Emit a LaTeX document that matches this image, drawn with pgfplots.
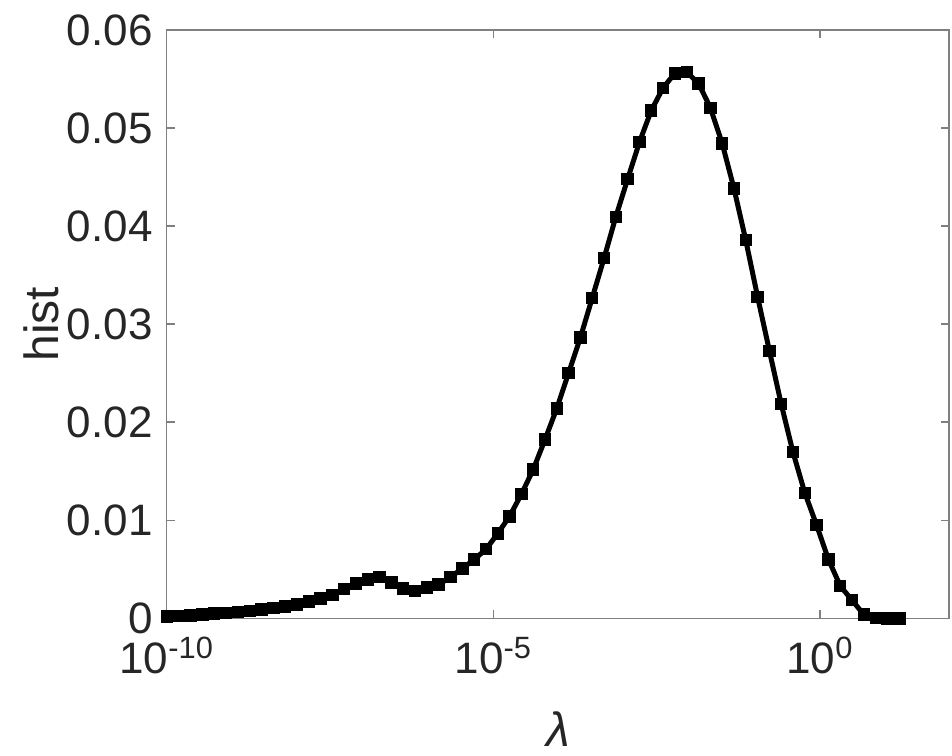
\documentclass[border=0pt]{standalone}
\usepackage{fontspec}
\setmainfont{Liberation Sans}
\usepackage{pgfplots}
\pgfplotsset{compat=1.18}
\usepackage{pgfplotstable}
\usetikzlibrary{calc}
\definecolor{txt}{RGB}{38,38,38}
\pgfplotstableread{
lx y
-9.995 0.00017
-9.814 0.00022
-9.633 0.00030
-9.453 0.00040
-9.272 0.00047
-9.091 0.00055
-8.910 0.00062
-8.729 0.00075
-8.549 0.00090
-8.368 0.00105
-8.187 0.00120
-8.006 0.00140
-7.825 0.00170
-7.645 0.00200
-7.464 0.00240
-7.283 0.00300
-7.102 0.00354
-6.921 0.00395
-6.741 0.00420
-6.560 0.00364
-6.379 0.00303
-6.198 0.00276
-6.017 0.00313
-5.837 0.00344
-5.656 0.00421
-5.475 0.00507
-5.294 0.00599
-5.113 0.00704
-4.933 0.00864
-4.752 0.01040
-4.571 0.01265
-4.390 0.01517
-4.209 0.01823
-4.029 0.02140
-3.848 0.02503
-3.667 0.02864
-3.486 0.03268
-3.305 0.03673
-3.125 0.04095
-2.944 0.04480
-2.763 0.04857
-2.582 0.05180
-2.401 0.05411
-2.221 0.05558
-2.040 0.05571
-1.859 0.05456
-1.678 0.05207
-1.497 0.04844
-1.317 0.04385
-1.136 0.03857
-0.955 0.03279
-0.774 0.02728
-0.593 0.02184
-0.413 0.01694
-0.232 0.01279
-0.051 0.00949
0.130 0.00599
0.311 0.00330
0.491 0.00184
0.672 0.00038
0.853 0.00002
1.034 0.00000
1.215 0.00000
}\histdata
\begin{document}
\begin{tikzpicture}
\begin{axis}[
  scale only axis,
  width=391.15pt, height=294.15pt,
  xmode=log, xmin=1e-10, xmax=94.4,
  ymin=0, ymax=0.06,
  scaled y ticks=false,
  xtick={1e-10,1e-5,1},
  xticklabels={10\textsuperscript{-10},10\textsuperscript{-5},10\textsuperscript{0}},
  xminorticks=false,
  ytick={0,0.01,0.02,0.03,0.04,0.05,0.06},
  yticklabels={0,0.01,0.02,0.03,0.04,0.05,0.06},
  tick align=inside,
  major tick length=4pt,
  axis line style={black!50, line width=0.75pt},
  every tick/.style={black!50, line width=0.75pt},
  tick label style={font=\fontsize{22}{26}\selectfont, text=txt},
  yticklabel style={xshift=-3.5pt},
  xticklabel style={yshift=-6pt},
  label style={font=\fontsize{24}{28}\selectfont, text=txt},
  xlabel={\itshape λ},
  ylabel={hist},
  xlabel style={at={(axis description cs:0.5,-0.188)}, anchor=center},
  ylabel style={at={(axis description cs:-0.1607,0.5)}, anchor=center},
  clip=false,
]
\addplot[black, line width=2.5pt, mark=square*, mark size=2.6pt,
  mark options={solid, fill=black, line width=1pt}]
  table[x expr={10^(\thisrow{lx})}, y=y] {\histdata};
\end{axis}
\path ($(current axis.south west)+(-83.35pt,-68.35pt)$) rectangle ($(current axis.north east)+(1.5pt,15pt)$);
\end{tikzpicture}
\end{document}
